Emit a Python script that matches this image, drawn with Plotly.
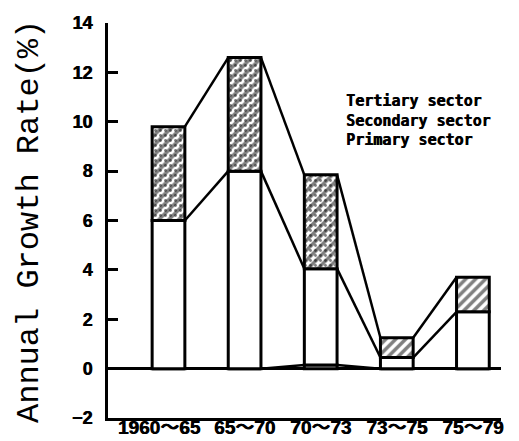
import plotly.graph_objects as go

# ---- data ----
periods = ["1960〜65", "65〜70", "70〜73", "73〜75", "75〜79"]
primary = [0.0, 0.0, 0.15, 0.0, 0.0]
secondary = [6.0, 8.0, 3.9, 0.45, 2.3]
tertiary = [3.8, 4.6, 3.8, 0.8, 1.4]
stipple = [".", ".", ".", "", ""]
legend_labels = ["Tertiary sector", "Secondary sector", "Primary sector"]
y_ticks = [-2, 0, 2, 4, 6, 8, 10, 12, 14]

# ---- layout constants ----
W, H = 519, 441
ML, MR, MT, MB = 100, 26, 15, 31
BW = 0.43
xs = list(range(len(periods)))

prim_top = primary
sec_top = [p + s for p, s in zip(primary, secondary)]
tot_top = [p + s + t for p, s, t in zip(primary, secondary, tertiary)]

fig = go.Figure()
outline = dict(color="black", width=3)

fig.add_trace(go.Bar(x=xs, y=primary, base=[0] * len(xs), width=BW,
                     marker=dict(color="white", line=outline), showlegend=False))
fig.add_trace(go.Bar(x=xs, y=secondary, base=prim_top, width=BW,
                     marker=dict(color="white", line=outline), showlegend=False))
fig.add_trace(go.Bar(x=xs, y=tertiary, base=sec_top, width=BW,
                     marker=dict(color="white", line=outline,
                                 pattern=dict(shape="/", fgcolor="black", bgcolor="white",
                                              size=7, solidity=0.5)),
                     showlegend=False))
fig.add_trace(go.Bar(x=xs, y=tertiary, base=sec_top, width=BW - 0.04,
                     marker=dict(color="rgba(0,0,0,0)", line=dict(width=0),
                                 pattern=dict(shape=stipple, fgcolor="black",
                                              bgcolor="rgba(0,0,0,0)",
                                              size=5, solidity=0.25)),
                     showlegend=False))

# connecting lines between adjacent bar tops
for level in (tot_top, sec_top, prim_top):
    lx, ly = [], []
    for i in range(len(xs) - 1):
        lx += [xs[i] + BW / 2, xs[i + 1] - BW / 2, None]
        ly += [level[i], level[i + 1], None]
    fig.add_trace(go.Scatter(x=lx, y=ly, mode="lines",
                             line=dict(color="black", width=2.5),
                             showlegend=False, hoverinfo="skip"))

pw = W - ML - MR
ph = H - MT - MB
x_left = -(160.5 - ML) / 76.1
x_right = (493 - 160.5) / 76.1

heavy = "0.6px 0px 0px black"
x_text = [p + ("\u2002\u2002" if i == 0 else "") for i, p in enumerate(periods)]

fig.update_layout(
    width=W, height=H,
    margin=dict(l=ML, r=MR, t=MT, b=MB, autoexpand=False),
    plot_bgcolor="white", paper_bgcolor="white",
    barmode="overlay",
    xaxis=dict(range=[x_left, x_right], tickmode="array", tickvals=xs,
               ticktext=x_text, tickangle=0,
               showline=True, linecolor="black", linewidth=3, showgrid=False,
               zeroline=False, ticks="", automargin=False, ticklabelstandoff=-10,
               tickfont=dict(family="Liberation Sans, Noto Sans CJK JP", size=19,
                             color="black", weight=700, shadow=heavy)),
    yaxis=dict(range=[-2, 14], tickmode="array", tickvals=y_ticks,
               ticktext=[("−" + str(-v) if v < 0 else str(v)) for v in y_ticks],
               showline=True, linecolor="black", linewidth=3, showgrid=False,
               zeroline=True, zerolinecolor="black", zerolinewidth=2.5,
               ticks="inside", ticklen=10, tickwidth=2.5, tickcolor="black",
               automargin=False, ticklabelstandoff=9,
               tickfont=dict(family="Liberation Sans", size=18, color="black",
                             weight=700, shadow=heavy)),
)

# y axis title
fig.add_annotation(text="Annual Growth Rate(%)", textangle=-90,
                   xref="paper", yref="paper",
                   x=(21 - ML) / pw, y=(H - MB - 214) / ph,
                   xanchor="center", yanchor="middle", showarrow=False,
                   font=dict(family="Liberation Mono", size=32, color="black"))

# legend text
fig.add_annotation(text="<br>".join(legend_labels),
                   xref="paper", yref="paper",
                   x=(336 - ML) / pw, y=(H - MB - 82) / ph,
                   xanchor="left", yanchor="top", align="left", showarrow=False,
                   font=dict(family="DejaVu Sans Mono", size=15, color="black",
                             weight=700, shadow=heavy))

fig.write_html("out.html")
